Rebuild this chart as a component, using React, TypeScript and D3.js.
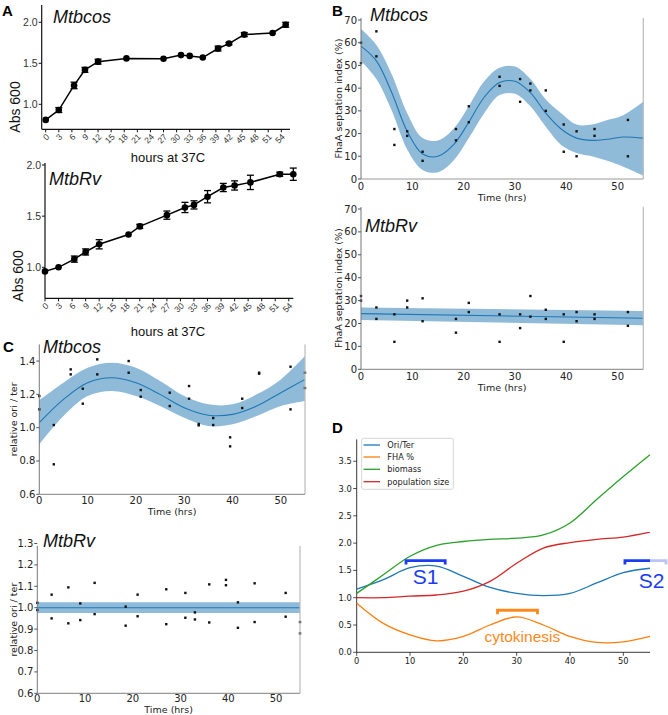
import React from "react";
import * as d3 from "d3";

// ---------- Panel A data ----------
const xTicksA = d3.range(0, 55, 3);
const hoursCos = [0, 3, 6.5, 9, 12, 18.5, 27, 31, 33, 36, 39.5, 42, 45.5, 52, 55];
const absCos = [0.81, 0.93, 1.23, 1.42, 1.52, 1.56, 1.555, 1.6, 1.59, 1.57, 1.68, 1.74, 1.85, 1.87, 1.97];
const errCos = [0.01, 0.03, 0.04, 0.03, 0.03, 0.01, 0.01, 0.01, 0.01, 0.01, 0.03, 0.015, 0.025, 0.01, 0.03];
const hoursRv = [0, 3, 6.5, 9, 12, 18.5, 21, 27, 31, 33, 36, 39.5, 42, 45.5, 52, 55];
const absRv = [0.96, 1.0, 1.08, 1.15, 1.225, 1.32, 1.4, 1.51, 1.585, 1.61, 1.69, 1.78, 1.8, 1.83, 1.91, 1.91];
const errRv = [0.01, 0.01, 0.03, 0.03, 0.045, 0.01, 0.02, 0.04, 0.05, 0.04, 0.06, 0.04, 0.045, 0.07, 0.02, 0.06];
const yTicksA = [1.0, 1.5, 2.0];

// ---------- Panel B data ----------
const timesB = [0, 3, 6.5, 9, 12, 18.5, 21, 27, 31, 33, 36, 39.5, 42, 45.5, 52];
const septCos1 = [60, 65, 22, 21, 12, 22, 32, 45, 44, 42, 39, 24, 21, 22, 26];
const septCos2 = [51, 54, 15, 19, 8, 17, 25, 41, 34, 39, 30, 12, 10, 19, 10];
const septRv1 = [32, 27, 24, 30, 31, 22, 29, 24, 24, 32, 26, 24, 25, 24, 25];
const septRv2 = [30, 22, 12, 27, 21, 16, 25, 12, 18, 23, 22, 12, 21, 22, 19];
const fitTimesBCos = [0, 3, 6, 9, 12, 15, 18, 21, 24, 27, 30, 33, 36, 39, 42, 45, 48, 51, 55];
const fitBCos = [58.5, 52, 38, 21, 11, 10, 15, 25, 36, 42.5, 43, 38, 29, 22, 18, 17, 17.5, 18.5, 18];
const fitBCosLo = [52, 44, 30, 13, 4, 3, 8, 18, 29, 37, 37.5, 32, 23, 15, 11.5, 10, 8, 5.5, 1.5];
const fitBCosHi = [66, 59, 46, 29, 18, 17, 22, 32, 43, 49, 49.5, 44, 35, 29, 24, 24, 26, 28, 34];
const fitTimesBRv = [0, 55];
const fitBRv = [24.3, 22.3];
const fitBRvLo = [21.5, 19.2];
const fitBRvHi = [27, 25.5];
const yTicksB = [0, 10, 20, 30, 40, 50, 60, 70];
const xTicksBC = [0, 10, 20, 30, 40, 50];

// ---------- Panel C data ----------
const timesC = [0, 3, 6.5, 9, 12, 18.5, 21, 27, 31, 33, 36, 39.5, 42, 45.5, 52, 55];
const oriCos1 = [1.19, 1.016, 1.35, 1.234, 1.41, 1.4, 1.226, 1.21, 1.25, 1.022, 1.058, 0.942, 1.174, 1.33, 1.366, 1.33];
const oriCos2 = [1.11, 0.78, 1.32, 1.144, 1.32, 1.33, 1.186, 1.13, 1.174, 1.014, 1.016, 0.888, 1.118, 1.324, 1.11, 1.238];
const oriRv1 = [1.023, 1.061, 1.095, 1.02, 1.116, 1.005, 1.061, 1.086, 1.069, 0.978, 1.109, 1.13, 1.025, 1.114, 1.069, 0.933];
const oriRv2 = [0.989, 0.95, 0.927, 0.942, 0.97, 0.916, 0.96, 0.923, 0.953, 0.945, 0.931, 1.105, 0.906, 0.933, 0.958, 0.88];
const fitTimesC = [0, 5, 10, 15, 20, 25, 30, 35, 40, 45, 50, 55];
const fitCCos = [1.03, 1.17, 1.27, 1.3, 1.27, 1.2, 1.12, 1.075, 1.08, 1.13, 1.21, 1.29];
const fitCCosLo = [0.9, 1.07, 1.19, 1.22, 1.19, 1.13, 1.06, 1.01, 1.02, 1.07, 1.13, 1.16];
const fitCCosHi = [1.165, 1.27, 1.36, 1.39, 1.36, 1.28, 1.19, 1.14, 1.14, 1.2, 1.29, 1.43];
const fitTimesCRv = [0, 55];
const fitCRv = [1.0, 1.0];
const fitCRvLo = [0.975, 0.975];
const fitCRvHi = [1.025, 1.025];
const yTicksCCos = [0.6, 0.8, 1.0, 1.2, 1.4];
const yTicksCRv = [0.6, 0.7, 0.8, 0.9, 1.0, 1.1, 1.2, 1.3];

// ---------- Panel D data ----------
const timesD = [0, 5, 10, 15, 20, 25, 30, 35, 40, 45, 50, 55];
const dOriTer = [1.156, 1.33, 1.55, 1.58, 1.39, 1.19, 1.08, 1.04, 1.08, 1.27, 1.46, 1.54];
const dFha = [0.9, 0.53, 0.32, 0.21, 0.29, 0.5, 0.65, 0.5, 0.29, 0.18, 0.19, 0.29];
const dBiomass = [1.08, 1.42, 1.76, 1.96, 2.03, 2.07, 2.09, 2.15, 2.37, 2.8, 3.22, 3.62];
const dPopulation = [1.0, 1.0, 1.03, 1.05, 1.12, 1.3, 1.63, 1.91, 2.01, 2.07, 2.11, 2.2];
const dSeriesNames = ["Ori/Ter", "FHA %", "biomass", "population size"];
const dSeriesColors = ["#1f77b4", "#ff7f0e", "#2ca02c", "#d62728"];
const yTicksD = [0, 0.5, 1.0, 1.5, 2.0, 2.5, 3.0, 3.5];
const s1Range = [9.25, 16.6];
const s2Range = [50.3, 58];
const cytoRange = [26.4, 33.9];
const s1Level = 1.68;
const cytoLevel = 0.77;

const ARIAL = "Liberation Sans, Arial, sans-serif";
const DEJAVU = "DejaVu Sans, sans-serif";

type Lin = d3.ScaleLinear<number, number>;

function GrowthPanel(props: {
  hours: number[]; vals: number[]; errs: number[];
  x: Lin; y: Lin; axisX: number; axisTop: number; axisBottom: number; axisRight: number;
  title: string; titleX: number; titleY: number; xlabelY: number; ylabelY: number;
}) {
  const { hours, vals, errs, x, y, axisX, axisTop, axisBottom, axisRight } = props;
  const line = d3.line<number>().x((_, i) => x(hours[i])).y((v) => y(v));
  return (
    <g>
      <line x1={axisX} x2={axisX} y1={axisTop} y2={axisBottom} stroke="#111" strokeWidth={1.2} />
      <line x1={axisX} x2={axisRight} y1={axisBottom} y2={axisBottom} stroke="#111" strokeWidth={1.2} />
      {yTicksA.map((t) => (
        <g key={t}>
          <line x1={axisX - 3} x2={axisX} y1={y(t)} y2={y(t)} stroke="#111" />
          <text x={axisX - 4} y={y(t)} textAnchor="end" dominantBaseline="central" fontSize={10.5} fontFamily={ARIAL} fill="#333">{t.toFixed(1)}</text>
        </g>
      ))}
      {xTicksA.map((t) => (
        <g key={t}>
          <line x1={x(t)} x2={x(t)} y1={axisBottom} y2={axisBottom + 3} stroke="#111" />
          <text transform={`translate(${x(t) + 2},${axisBottom + 6}) rotate(-45)`} textAnchor="end" dominantBaseline="central" fontSize={8.5} fontFamily={ARIAL} fill="#333">{t}</text>
        </g>
      ))}
      <path d={line(vals) || ""} fill="none" stroke="#000" strokeWidth={1.5} />
      {vals.map((v, i) => (
        <g key={i}>
          {errs[i] > 0.012 && (
            <g stroke="#000" strokeWidth={1.3}>
              <line x1={x(hours[i])} x2={x(hours[i])} y1={y(v - errs[i])} y2={y(v + errs[i])} />
              <line x1={x(hours[i]) - 3.5} x2={x(hours[i]) + 3.5} y1={y(v - errs[i])} y2={y(v - errs[i])} />
              <line x1={x(hours[i]) - 3.5} x2={x(hours[i]) + 3.5} y1={y(v + errs[i])} y2={y(v + errs[i])} />
            </g>
          )}
          <circle cx={x(hours[i])} cy={y(v)} r={3.3} fill="#000" />
        </g>
      ))}
      <text x={props.titleX} y={props.titleY} fontSize={18} fontStyle="italic" fontFamily={ARIAL} fill="#111">{props.title}</text>
      <text x={168} y={props.xlabelY} textAnchor="middle" fontSize={13} fontFamily={ARIAL} fill="#111">hours at 37C</text>
      <text transform={`translate(${axisX - 22},${props.ylabelY}) rotate(-90)`} textAnchor="middle" fontSize={14} fontFamily={ARIAL} fill="#111">Abs 600</text>
    </g>
  );
}

function FitPanel(props: {
  x: Lin; y: Lin; yTicks: number[]; yFmt: (v: number) => string;
  times: number[]; p1: number[]; p2: number[];
  fitT: number[]; fit: number[]; lo: number[]; hi: number[];
  title: string; titleX: number; titleY: number;
  ylabel: string; ylabelX: number; ylabelSize: number;
  xtickY: number; xlabelY: number; frameTop: number;
}) {
  const { x, y } = props;
  const [x0, x1] = x.range();
  const yb = y(y.domain()[0]);
  const area = d3.area<number>().x((_, i) => x(props.fitT[i])).y0((_, i) => y(props.lo[i])).y1((_, i) => y(props.hi[i])).curve(d3.curveCatmullRom);
  const line = d3.line<number>().x((_, i) => x(props.fitT[i])).y((v) => y(v)).curve(d3.curveCatmullRom);
  const sq = 2.4;
  return (
    <g>
      <path d={area(props.fit) || ""} fill="#1f77b4" fillOpacity={0.5} />
      <path d={line(props.fit) || ""} fill="none" stroke="#1f77b4" strokeWidth={1.1} />
      {props.times.map((t, i) => (
        <g key={i}>
          <rect x={x(t) - sq / 2} y={y(props.p1[i]) - sq / 2} width={sq} height={sq} fill="#111" />
          <rect x={x(t) - sq / 2} y={y(props.p2[i]) - sq / 2} width={sq} height={sq} fill="#111" />
        </g>
      ))}
      <line x1={x0} x2={x0} y1={props.frameTop} y2={yb} stroke="#777" strokeWidth={1} />
      <line x1={x1} x2={x1} y1={props.frameTop} y2={yb} stroke="#bbb" strokeWidth={1.2} />
      <line x1={x0} x2={x1} y1={yb} y2={yb} stroke="#999" strokeWidth={1.2} />
      {props.yTicks.map((t) => (
        <g key={t}>
          <line x1={x0 - 3} x2={x0} y1={y(t)} y2={y(t)} stroke="#555" />
          <text x={x0 - 4} y={y(t)} textAnchor="end" dominantBaseline="central" fontSize={10} fontFamily={DEJAVU} fill="#222">{props.yFmt(t)}</text>
        </g>
      ))}
      {xTicksBC.map((t) => (
        <text key={t} x={x(t)} y={props.xtickY} textAnchor="middle" fontSize={10} fontFamily={DEJAVU} fill="#222">{t}</text>
      ))}
      <text x={(x0 + x1) / 2} y={props.xlabelY} textAnchor="middle" fontSize={9.5} fontFamily={DEJAVU} fill="#222">Time (hrs)</text>
      <text transform={`translate(${props.ylabelX},${(props.frameTop + yb) / 2}) rotate(-90)`} textAnchor="middle" fontSize={props.ylabelSize} fontFamily={DEJAVU} fill="#222">{props.ylabel}</text>
      <text x={props.titleX} y={props.titleY} fontSize={18} fontStyle="italic" fontFamily={ARIAL} fill="#111">{props.title}</text>
    </g>
  );
}

function PanelD() {
  const x = d3.scaleLinear().domain([0, 55]).range([356.7, 650]);
  const y = d3.scaleLinear().domain([0, 3.9]).range([652.3, 439.4]);
  const series = [dOriTer, dFha, dBiomass, dPopulation];
  const line = d3.line<number>().x((_, i) => x(timesD[i])).y((v) => y(v)).curve(d3.curveCatmullRom);
  const blue = "#1a3cf2";
  const orange = "#ff8a1c";
  const bracket = (a: number, b: number, lvl: number) => {
    const yt = y(lvl);
    return `M${x(a)},${yt + 4} L${x(a)},${yt} L${x(b)},${yt} L${x(b)},${yt + 4}`;
  };
  const yS = y(s1Level);
  const legendY = [445, 457, 469.3, 481.7];
  return (
    <g>
      <line x1={x(0)} x2={x(0)} y1={439.4} y2={652.3} stroke="#222" strokeWidth={0.9} />
      <line x1={x(0)} x2={x(55)} y1={652.3} y2={652.3} stroke="#222" strokeWidth={0.9} />
      {yTicksD.map((t) => (
        <g key={t}>
          <line x1={x(0) - 3.5} x2={x(0)} y1={y(t)} y2={y(t)} stroke="#222" strokeWidth={0.8} />
          <text x={x(0) - 5} y={y(t)} textAnchor="end" dominantBaseline="central" fontSize={8.3} fontFamily={DEJAVU} fill="#222">{t.toFixed(1)}</text>
        </g>
      ))}
      {xTicksBC.map((t) => (
        <g key={t}>
          <line x1={x(t)} x2={x(t)} y1={652.3} y2={655.8} stroke="#222" strokeWidth={0.8} />
          <text x={x(t)} y={664} textAnchor="middle" fontSize={8.3} fontFamily={DEJAVU} fill="#222">{t}</text>
        </g>
      ))}
      {series.map((s, k) => (
        <path key={k} d={line(s) || ""} fill="none" stroke={dSeriesColors[k]} strokeWidth={1.3} />
      ))}
      <rect x={361.7} y={438.3} width={91.6} height={51} fill="#fff" fillOpacity={0.8} stroke="#ccc" strokeWidth={0.8} rx={2} />
      {dSeriesNames.map((n, k) => (
        <g key={n}>
          <line x1={363.5} x2={380} y1={legendY[k]} y2={legendY[k]} stroke={dSeriesColors[k]} strokeWidth={1.3} />
          <text x={387.3} y={legendY[k]} dominantBaseline="central" fontSize={8.2} fontFamily={DEJAVU} fill="#222">{n}</text>
        </g>
      ))}
      <path d={bracket(s1Range[0], s1Range[1], s1Level)} fill="none" stroke={blue} strokeWidth={2.8} />
      <text x={x((s1Range[0] + s1Range[1]) / 2)} y={yS + 23} textAnchor="middle" fontSize={21} fontFamily={ARIAL} fill={blue}>S1</text>
      <path d={`M${x(s2Range[0])},${yS + 4} L${x(s2Range[0])},${yS} L${x(55)},${yS}`} fill="none" stroke={blue} strokeWidth={2.8} />
      <path d={`M${x(55)},${yS} L${x(s2Range[1])},${yS} L${x(s2Range[1])},${yS + 4}`} fill="none" stroke={blue} strokeOpacity={0.3} strokeWidth={2.8} />
      <text x={651.5} y={yS + 27} textAnchor="middle" fontSize={21} fontFamily={ARIAL} fill={blue}>S2</text>
      <path d={bracket(cytoRange[0], cytoRange[1], cytoLevel)} fill="none" stroke={orange} strokeWidth={2.8} />
      <text x={522.3} y={641.7} textAnchor="middle" fontSize={15.5} fontFamily={ARIAL} fill={orange}>cytokinesis</text>
    </g>
  );
}

export default function App() {
  const xA1 = d3.scaleLinear().domain([0, 55]).range([45.7, 285.7]);
  const yA1 = d3.scaleLinear().domain([1, 2]).range([104.3, 22.3]);
  const xA2 = d3.scaleLinear().domain([0, 55]).range([45, 293.3]);
  const yA2 = d3.scaleLinear().domain([1, 2]).range([267.3, 165]);
  const xB = d3.scaleLinear().domain([0, 55]).range([361, 643.3]);
  const yB1 = d3.scaleLinear().domain([0, 70]).range([179, 20]);
  const yB2 = d3.scaleLinear().domain([0, 70]).range([369.3, 209]);
  const xC1 = d3.scaleLinear().domain([0, 55]).range([39.3, 305]);
  const yC1 = d3.scaleLinear().domain([0.6, 1.5]).range([494.3, 344.4]);
  const xC2 = d3.scaleLinear().domain([0, 55]).range([37.3, 300]);
  const yC2 = d3.scaleLinear().domain([0.6, 1.3]).range([693.3, 543.5]);
  const intFmt = (v: number) => String(v);
  const f1 = (v: number) => v.toFixed(1);
  return (
    <svg width={668} height={715} style={{ position: "absolute", left: 0, top: 0, background: "#fff" }}>
      <rect x={0} y={0} width={668} height={715} fill="#fff" />
      <text x={2} y={16} fontSize={15} fontWeight="bold" fontFamily={ARIAL}>A</text>
      <text x={332} y={16} fontSize={15} fontWeight="bold" fontFamily={ARIAL}>B</text>
      <text x={3} y={352} fontSize={15} fontWeight="bold" fontFamily={ARIAL}>C</text>
      <text x={332} y={433} fontSize={15} fontWeight="bold" fontFamily={ARIAL}>D</text>

      <GrowthPanel hours={hoursCos} vals={absCos} errs={errCos} x={xA1} y={yA1}
        axisX={41.7} axisTop={5} axisBottom={129.3} axisRight={290}
        title="Mtbcos" titleX={53} titleY={23} xlabelY={162} ylabelY={107} />
      <GrowthPanel hours={hoursRv} vals={absRv} errs={errRv} x={xA2} y={yA2}
        axisX={45} axisTop={163} axisBottom={298.3} axisRight={293.3}
        title="MtbRv" titleX={49} titleY={185} xlabelY={336} ylabelY={276} />

      <FitPanel x={xB} y={yB1} yTicks={yTicksB} yFmt={intFmt} times={timesB} p1={septCos1} p2={septCos2}
        fitT={fitTimesBCos} fit={fitBCos} lo={fitBCosLo} hi={fitBCosHi}
        title="Mtbcos" titleX={370} titleY={21} ylabel="FhaA septation index (%)" ylabelX={341.5} ylabelSize={9.5}
        xtickY={189.5} xlabelY={200.5} frameTop={18} />
      <FitPanel x={xB} y={yB2} yTicks={yTicksB} yFmt={intFmt} times={timesB} p1={septRv1} p2={septRv2}
        fitT={fitTimesBRv} fit={fitBRv} lo={fitBRvLo} hi={fitBRvHi}
        title="MtbRv" titleX={365} titleY={231.7} ylabel="FhaA septation index (%)" ylabelX={341.5} ylabelSize={9.5}
        xtickY={380} xlabelY={391} frameTop={207} />

      <FitPanel x={xC1} y={yC1} yTicks={yTicksCCos} yFmt={f1} times={timesC} p1={oriCos1} p2={oriCos2}
        fitT={fitTimesC} fit={fitCCos} lo={fitCCosLo} hi={fitCCosHi}
        title="Mtbcos" titleX={43} titleY={353.3} ylabel="relative ori / ter" ylabelX={17} ylabelSize={9.5}
        xtickY={503.5} xlabelY={515} frameTop={344.4} />
      <FitPanel x={xC2} y={yC2} yTicks={yTicksCRv} yFmt={f1} times={timesC} p1={oriRv1} p2={oriRv2}
        fitT={fitTimesCRv} fit={fitCRv} lo={fitCRvLo} hi={fitCRvHi}
        title="MtbRv" titleX={43} titleY={546.7} ylabel="relative ori / ter" ylabelX={17} ylabelSize={9.5}
        xtickY={702} xlabelY={713} frameTop={546} />

      <PanelD />
    </svg>
  );
}
